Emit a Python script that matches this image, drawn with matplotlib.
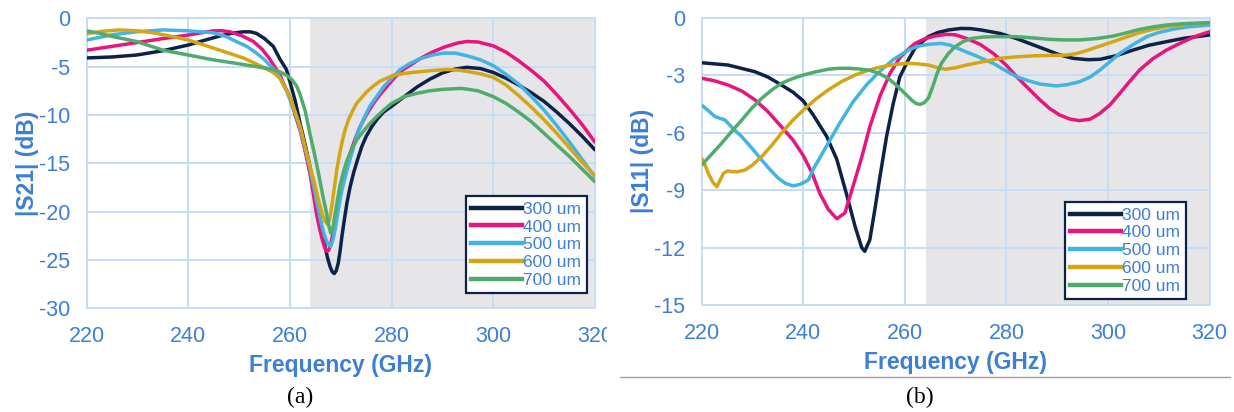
import numpy as np
import matplotlib.pyplot as plt
from matplotlib.patches import Rectangle
from matplotlib.lines import Line2D

# ---------------- data ----------------
labels = ["300 um", "400 um", "500 um", "600 um", "700 um"]
colors = ["#0d2248", "#e8157d", "#42b4e4", "#d4a514", "#4fac6c"]

# (a) |S21| (dB)
s21_f_300 = [220, 225, 229.8, 235, 240, 243, 246.2, 248.5, 250.8, 252.2, 253.4, 255, 256.7, 258, 259.3, 260, 261, 262, 263, 263.9, 264.8, 265.6, 266.3, 266.9, 267.4, 267.9, 268.3, 268.7, 269.1, 269.5, 269.9, 270.2, 270.7, 271.2, 271.8, 272.5, 273.3, 274.1, 275, 276.1, 277.2, 278.4, 280, 281.5, 283, 285, 287.5, 290, 292.5, 294.8, 297.5, 300, 302.5, 305, 307.5, 310, 312.5, 315, 317.5, 320]
s21_300 = [-4.1, -4.0, -3.8, -3.35, -2.76, -2.3, -1.83, -1.55, -1.4, -1.4, -1.56, -2.1, -2.9, -4.2, -5.3, -6.6, -8.5, -10.9, -13.1, -15.3, -17.6, -19.8, -21.9, -23.6, -24.8, -25.7, -26.2, -26.4, -26.1, -25.3, -23.9, -22.6, -20.8, -19.1, -17.5, -16.0, -14.6, -13.3, -12.2, -11.2, -10.4, -9.7, -9.1, -8.5, -7.9, -7.1, -6.3, -5.65, -5.25, -5.07, -5.2, -5.6, -6.2, -6.9, -7.7, -8.6, -9.7, -10.9, -12.2, -13.6]

s21_f_400 = [220, 225, 230, 235, 240, 242.5, 244.9, 246.5, 248.2, 250.5, 252.8, 254.5, 256, 257.2, 258, 258.6, 260, 261, 262, 263, 263.9, 264.6, 265.2, 265.8, 266.4, 266.8, 267.2, 267.6, 267.9, 268.4, 268.9, 269.5, 270.2, 271, 271.8, 272.8, 273.8, 275, 276.4, 277.7, 279, 280.3, 281.7, 283.5, 285.5, 288, 290.5, 293, 294.8, 297, 300, 302.5, 305, 307.5, 310, 312.5, 315, 317.5, 320]
s21_400 = [-3.3, -2.9, -2.5, -2.1, -1.73, -1.5, -1.3, -1.28, -1.4, -1.8, -2.4, -3.2, -4.2, -5.2, -5.8, -6.6, -8.2, -10.0, -11.6, -13.8, -16.0, -18.2, -20.2, -21.7, -23.0, -23.7, -24.1, -24.0, -23.6, -22.4, -20.9, -19.0, -17.4, -15.6, -14.0, -12.5, -11.2, -10.0, -8.8, -7.9, -7.1, -6.3, -5.5, -4.9, -4.2, -3.5, -2.95, -2.55, -2.4, -2.45, -2.85, -3.5, -4.4, -5.4, -6.5, -7.9, -9.4, -11.0, -12.8]

s21_f_500 = [220, 225, 229.8, 235, 240, 244.9, 247.5, 249.4, 251.5, 253.4, 255, 256.7, 258, 259.3, 260.6, 261.9, 263, 264, 264.8, 265.5, 266.2, 266.8, 267.4, 268, 268.5, 269, 269.5, 270.2, 271.2, 272.2, 273.1, 274.3, 275.7, 277.2, 278.4, 280, 281.7, 283.5, 285.5, 288, 290.2, 292.5, 295, 297.5, 300, 302.5, 305, 307.5, 310, 312.5, 315, 317.5, 320]
s21_500 = [-2.25, -1.7, -1.4, -1.2, -1.3, -1.5, -1.9, -2.4, -2.9, -3.6, -4.3, -5.2, -6.1, -7.5, -9.2, -11.2, -13.5, -15.8, -17.8, -19.6, -21.3, -22.5, -23.3, -23.6, -22.8, -21.5, -19.8, -17.8, -15.7, -13.9, -12.2, -10.6, -9.1, -8.0, -7.1, -6.2, -5.3, -4.7, -4.2, -3.8, -3.6, -3.6, -3.9, -4.3, -4.9, -5.8, -6.8, -8.1, -9.5, -11.1, -12.8, -14.6, -16.4]

s21_f_600 = [220, 223, 226.4, 230, 233.1, 236.5, 240, 243, 246.2, 250.8, 253.7, 256.7, 258, 260, 262, 263.9, 264.8, 265.6, 266.3, 266.9, 267.4, 267.8, 268.2, 268.7, 269.2, 269.7, 270.2, 270.8, 271.5, 272.3, 273.1, 274.1, 275.1, 276.4, 277.7, 280.3, 282.5, 285, 288, 290.8, 293, 295, 297.5, 300, 302.5, 305, 307.5, 310, 312.5, 315, 317.5, 320]
s21_600 = [-1.6, -1.35, -1.2, -1.3, -1.5, -1.85, -2.25, -2.75, -3.3, -4.1, -4.8, -5.6, -6.2, -8.1, -11.2, -15.3, -17.0, -18.8, -20.2, -21.0, -21.3, -20.8, -19.5, -17.6, -15.7, -14.2, -12.9, -11.6, -10.5, -9.6, -8.8, -8.2, -7.6, -7.0, -6.5, -5.9, -5.7, -5.55, -5.4, -5.3, -5.35, -5.5, -5.75, -6.1, -6.9, -8.0, -9.2, -10.5, -11.9, -13.4, -14.9, -16.3]

s21_f_700 = [220, 222.5, 225.2, 229.8, 235, 240, 244.9, 249.4, 253.4, 256.7, 258, 259.3, 260.3, 261.3, 262, 263, 263.9, 264.8, 265.6, 266.4, 267.2, 267.6, 268, 268.4, 268.8, 269.3, 269.8, 270.5, 271.2, 272.1, 273.1, 274.4, 275.7, 277, 278.4, 280, 282.5, 285, 287.5, 290, 293.8, 297, 300, 302.5, 305, 307.5, 310, 312.5, 315, 317.5, 320]
s21_700 = [-1.3, -1.55, -1.9, -2.4, -3.3, -3.8, -4.3, -4.66, -5.0, -5.3, -5.55, -5.9, -6.3, -7.0, -7.9, -9.6, -11.9, -14.0, -16.0, -18.2, -20.2, -21.4, -22.2, -21.8, -20.5, -18.9, -17.4, -15.9, -14.7, -13.6, -12.6, -11.7, -10.9, -10.2, -9.5, -8.8, -8.1, -7.75, -7.5, -7.35, -7.25, -7.5, -8.1, -8.8, -9.7, -10.7, -11.9, -13.1, -14.3, -15.6, -16.9]

# (b) |S11| (dB)
s11_f_300 = [220, 225.2, 230.5, 233, 235.7, 238, 240, 242, 244.6, 246.6, 248.5, 250.2, 251.5, 252.1, 253.1, 254.1, 255.1, 256.4, 257.7, 259, 260.7, 262, 264.6, 266.5, 268.6, 271, 273, 275, 278.7, 282, 285.3, 288, 290.5, 293.1, 296, 298.4, 301.5, 304.9, 308, 311.5, 315, 320]
s11_300 = [-2.36, -2.48, -2.83, -3.1, -3.52, -3.9, -4.35, -5.1, -6.2, -7.4, -9.2, -10.9, -12.0, -12.2, -11.6, -10.0, -8.3, -6.2, -4.5, -3.1, -2.2, -1.6, -1.0, -0.78, -0.65, -0.57, -0.58, -0.65, -0.83, -1.1, -1.43, -1.7, -1.95, -2.13, -2.2, -2.18, -2.0, -1.7, -1.45, -1.26, -1.08, -0.91]

s11_f_400 = [220, 222.5, 225.2, 228, 230.5, 233, 235.7, 238, 240, 241.7, 243.3, 244.9, 246.6, 248.2, 249.8, 251.5, 253.1, 255.1, 257.1, 259, 260.5, 262, 264, 265.9, 268, 269.9, 272.1, 274.8, 277.4, 280, 282, 284.3, 286.6, 288.5, 290.5, 292.5, 294.4, 296.5, 298.4, 300.4, 302.3, 304.2, 306.2, 308.8, 311.5, 314.5, 317, 320]
s11_400 = [-3.17, -3.3, -3.52, -3.85, -4.3, -4.9, -5.7, -6.4, -7.2, -8.1, -9.2, -10.0, -10.5, -10.2, -8.8, -7.3, -5.7, -4.1, -2.9, -2.1, -1.7, -1.35, -1.1, -0.97, -0.88, -0.9, -1.09, -1.4, -1.87, -2.5, -3.09, -3.7, -4.3, -4.75, -5.09, -5.3, -5.38, -5.3, -5.0, -4.55, -3.96, -3.35, -2.74, -2.15, -1.7, -1.3, -1.0, -0.74]

s11_f_500 = [220, 221.5, 222.6, 223.5, 224.6, 226, 227.9, 230, 231.8, 233.5, 235.1, 236.5, 238, 239.4, 241, 242, 244.6, 247.2, 249.8, 252.5, 255.1, 257.7, 260.7, 262.5, 264.6, 267.2, 269, 271.2, 274, 277.4, 280, 282, 284.3, 286.6, 289.8, 292, 294.4, 296.5, 298.4, 300.4, 302.3, 305, 307.6, 310, 313, 316, 320]
s11_500 = [-4.57, -4.9, -5.17, -5.25, -5.35, -5.75, -6.22, -6.85, -7.43, -7.95, -8.39, -8.65, -8.79, -8.7, -8.48, -7.9, -6.7, -5.5, -4.4, -3.5, -2.8, -2.2, -1.7, -1.5, -1.4, -1.35, -1.45, -1.7, -2.0, -2.39, -2.8, -3.09, -3.3, -3.47, -3.57, -3.5, -3.35, -3.1, -2.74, -2.3, -1.87, -1.4, -1.0, -0.78, -0.6, -0.48, -0.39]

s11_f_600 = [220, 220.7, 221.3, 222.2, 223, 223.6, 224.3, 225.1, 225.9, 227, 228.5, 230, 231.8, 233.7, 235.7, 237.8, 240, 242.5, 244.9, 247.5, 250.2, 252.8, 255.4, 258, 260.7, 262.6, 264.6, 266.5, 268, 270, 272.1, 275.5, 278.7, 282, 285.3, 288.5, 291.8, 293.8, 295.7, 298.3, 301, 303.6, 306.2, 308.8, 311.5, 315, 320]
s11_600 = [-7.35, -7.7, -8.13, -8.6, -8.83, -8.5, -8.13, -8.0, -8.04, -8.05, -7.96, -7.7, -7.26, -6.7, -6.04, -5.4, -4.83, -4.25, -3.78, -3.35, -3.0, -2.75, -2.57, -2.45, -2.39, -2.42, -2.48, -2.62, -2.7, -2.62, -2.48, -2.3, -2.13, -2.05, -2.0, -1.98, -1.96, -1.88, -1.73, -1.5, -1.26, -1.02, -0.79, -0.62, -0.48, -0.37, -0.27]

s11_f_700 = [220, 221.9, 223.9, 225.9, 227.9, 229.8, 231.8, 233.7, 235.7, 237.8, 240, 242.5, 244.9, 246.9, 248.9, 250.8, 252.8, 254.8, 256.7, 258.4, 260, 261.5, 262.3, 263, 263.8, 264.6, 265.5, 266.3, 267.2, 268.5, 269.9, 271.5, 273.2, 275.3, 277.4, 282, 285, 288.5, 291.5, 294.4, 297.7, 301, 303.6, 306.2, 308.8, 311.5, 315, 320]
s11_700 = [-7.7, -7.15, -6.57, -5.95, -5.35, -4.75, -4.22, -3.8, -3.43, -3.2, -3.0, -2.83, -2.7, -2.65, -2.65, -2.68, -2.74, -2.9, -3.17, -3.55, -3.96, -4.35, -4.5, -4.53, -4.45, -4.22, -3.6, -2.95, -2.39, -1.9, -1.52, -1.25, -1.09, -1.02, -1.0, -1.0, -1.06, -1.14, -1.17, -1.17, -1.1, -0.97, -0.8, -0.62, -0.49, -0.39, -0.32, -0.27]

x_ticks = [220, 240, 260, 280, 300, 320]
s21_ticks = [0, -5, -10, -15, -20, -25, -30]
s11_ticks = [0, -3, -6, -9, -12, -15]
shade_a = (263.9, 320)
shade_b = (264.2, 320)

# ---------------- style ----------------
BLUE = "#3d7fd6"
GRID = "#c8dcf6"
SHADE = "#e6e6e8"
plt.rcParams['font.family'] = ['Liberation Sans', 'DejaVu Sans']
plt.rcParams['axes.unicode_minus'] = False

fig = plt.figure(figsize=(12.34, 4.12), dpi=100)
ax_a = fig.add_axes([0.0703, 0.2515, 0.4118, 0.7041])
ax_b = fig.add_axes([0.5686, 0.2597, 0.4117, 0.6978])


def style_axes(ax, yticks, ylabel, shade):
    ax.set_xlim(220, 320)
    ax.set_ylim(yticks[-1], yticks[0])
    ax.axvspan(shade[0], shade[1], color=SHADE, zorder=0, lw=0)
    ax.set_xticks(x_ticks)
    ax.set_yticks(yticks)
    ax.grid(True, color=GRID, lw=1.4, zorder=1)
    ax.set_axisbelow(True)
    for sp in ax.spines.values():
        sp.set_color(GRID)
        sp.set_linewidth(1.4)
    ax.tick_params(length=0, labelsize=15.5, labelcolor=BLUE)
    ax.tick_params(axis='x', pad=13)
    ax.tick_params(axis='y', pad=12)
    ax.set_xlabel("Frequency (GHz)", fontsize=16.5, fontweight='bold', color=BLUE, labelpad=5)
    ax.set_ylabel(ylabel, fontsize=16.5, fontweight='bold', color=BLUE, labelpad=0)


style_axes(ax_a, s21_ticks, "|S21| (dB)", shade_a)
style_axes(ax_b, s11_ticks, "|S11| (dB)", shade_b)

s21_set = [(s21_f_300, s21_300), (s21_f_400, s21_400), (s21_f_500, s21_500),
           (s21_f_600, s21_600), (s21_f_700, s21_700)]
s11_set = [(s11_f_300, s11_300), (s11_f_400, s11_400), (s11_f_500, s11_500),
           (s11_f_600, s11_600), (s11_f_700, s11_700)]

for (f, v), c, lab in zip(s21_set, colors, labels):
    ax_a.plot(f, v, color=c, lw=2.5, label=lab, zorder=3,
              solid_joinstyle='round', solid_capstyle='round')
for (f, v), c, lab in zip(s11_set, colors, labels):
    ax_b.plot(f, v, color=c, lw=2.5, label=lab, zorder=3,
              solid_joinstyle='round', solid_capstyle='round')


def add_legend(ax, anchor):
    handles = [Line2D([], [], color=c, lw=3.2) for c in colors]
    leg = ax.legend(handles, labels, loc='lower right', bbox_to_anchor=anchor,
                    borderaxespad=0, fontsize=12.5, labelcolor=BLUE, frameon=True,
                    fancybox=False, edgecolor="#0d2248", framealpha=1,
                    handlelength=2.9, handletextpad=0.1, labelspacing=0.15,
                    borderpad=0.3)
    leg.get_frame().set_linewidth(1.6)
    leg.set_zorder(5)


add_legend(ax_a, (0.984, 0.053))
add_legend(ax_b, (0.953, 0.021))

# clipped "320" of panel (a) and the rule under panel (b)
fig.patches.append(Rectangle((607 / 1234, 0.15), 0.012, 0.1, transform=fig.transFigure,
                             facecolor='white', edgecolor='none', zorder=10))
fig.add_artist(Line2D([620 / 1234, 1230 / 1234], [1 - 377 / 412, 1 - 377 / 412],
                      color="#a0a0a0", lw=1.0))

fig.text(300 / 1234, 1 - 397 / 412, "(a)", ha='center', va='center',
         fontsize=17, family=['Liberation Serif', 'DejaVu Serif'])
fig.text(920 / 1234, 1 - 397 / 412, "(b)", ha='center', va='center',
         fontsize=17, family=['Liberation Serif', 'DejaVu Serif'])

fig.savefig("out.png", dpi=100)
